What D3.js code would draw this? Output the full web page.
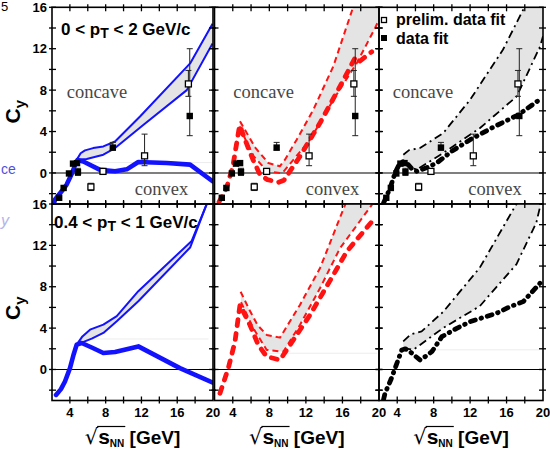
<!DOCTYPE html>
<html><head><meta charset="utf-8">
<script src="https://cdn.jsdelivr.net/npm/d3@7"></script>
<style>
body{margin:0;background:#fff;}
svg{display:block;font-family:Arial,"Liberation Sans",sans-serif;}
</style></head><body>
<svg id="chart" width="550" height="452"></svg>
<script>
// ---------------- DATA ----------------
const xTicksLabeled = [4, 8, 12, 16, 20];
const xTicksAll = [4, 6, 8, 10, 12, 14, 16, 18];
const yTicksLabeled = [0, 4, 8, 12, 16];
const yTicksAll = [-2, 0, 2, 4, 6, 8, 10, 12, 14, 16];
const titlePre = ["0 < p", "0.4 < p"];
const titleSub = "T";
const titlePost = [" < 2 GeV/c", " < 1 GeV/c"];
const legendLabels = ["prelim. data fit", "data fit"];
const regionLabels = ["concave", "convex"];

// data fit (filled squares)
const dataFitX  = [2.8, 3.3, 3.9, 4.35, 4.8, 4.9, 8.8, 17.4];
const dataFitY  = [-2.4, -1.45, -0.05, 0.9, 0.95, 0.1, 2.45, 5.5];
const dataFitLo = [null, null, null, null, null, -0.25, 2.2, 3.6];
const dataFitHi = [null, null, null, null, null, 0.45, 2.95, 12.0];
// prelim. data fit (open squares)
const prelimX  = [6.35, 7.7, 12.35, 17.25];
const prelimY  = [-1.35, 0.15, 1.65, 8.6];
const prelimLo = [-1.7, null, 0.7, 7.4];
const prelimHi = [-1.0, null, 3.75, 9.9];

// blue (left column)
const blueTopThick = [[2.2,-3.0],[2.34,-2.57],[3.08,-1.77],[3.64,-1.12],[4.2,-0.1],[4.55,0.7],[4.85,1.25],[5.5,1.1],[7.37,0.3],[9.05,0.16],[10.36,0.35],[11.65,1.06],[14.83,0.96],[17.44,0.8],[19.95,-0.8]];
const blueTopUpper = [[4.76,1.28],[5.2,1.9],[5.69,2.18],[6.6,2.4],[7.74,2.56],[9.05,3.04],[11.84,5.45],[17.44,10.58],[19.95,14.4]];
const blueTopLower = [[4.76,1.28],[5.88,1.35],[7.74,1.76],[9.05,2.4],[12.2,4.64],[17.07,8.0],[19.95,12.5]];
const blueBotThick = [[2.45,-2.46],[3.0,-1.9],[3.45,-1.16],[4.01,0.13],[4.4,1.4],[4.76,2.4],[5.32,2.56],[6.5,2.1],[7.74,1.59],[9.05,1.69],[11.65,2.23],[16.3,0.13],[19.93,-1.26]];
const blueBotUpper = [[4.76,2.4],[5.4,3.2],[6.25,3.85],[7.74,4.34],[9.24,5.15],[11.65,7.57],[17.62,12.43],[19.3,16],[19.6,17]];
const blueBotLower = [[4.76,2.4],[6.44,2.98],[7.74,3.53],[9.24,4.66],[11.65,6.6],[17.44,11.79],[19.3,16],[19.6,17]];

// red (middle column)
const redTopThick = [[2.5,-2.8],[3.3,-1.5],[4.0,0.6],[4.45,3.0],[4.75,4.6],[5.3,3.3],[6.2,1.3],[7.0,-0.2],[7.8,-0.65],[9.0,-0.9],[9.6,-0.7],[11.35,1.6],[13.54,4.82],[15.73,8.35],[17.37,11.09],[17.75,10.7],[19.2,11.7]];
const redTopUpper = [[4.79,5.0],[5.5,3.9],[6.5,2.4],[7.89,0.96],[9.15,0.64],[9.71,1.28],[10.99,3.21],[12.81,6.1],[15.0,10.3],[17.19,16.07],[20,18]];
const redTopLower = [[4.74,4.5],[5.5,3.0],[6.3,1.6],[7.77,0.17],[9.15,0.0],[9.53,0.1],[12.45,3.2],[15.0,7.07],[17.56,10.6],[19.56,13.98],[20,14.8]];
const redBotThick = [[2.6,-2.3],[3.51,0.12],[4.24,2.69],[4.79,6.24],[5.88,4.3],[6.79,2.37],[7.71,1.24],[9.17,0.92],[10.26,2.37],[12.45,5.27],[15.0,9.14],[16.46,11.39],[19.37,14.46]];
const redBotUpper = [[4.86,7.52],[5.8,5.8],[6.7,4.3],[7.71,3.34],[9.17,3.08],[11.35,6.24],[13.54,9.79],[16.28,15.9],[16.6,16.6],[20,18]];
const redBotLower = [[4.9,6.5],[6.25,3.98],[7.71,1.89],[9.53,1.72],[11.35,4.3],[13.54,7.85],[15.73,11.72],[19.2,15.9],[19.4,16.5]];

// black (right column)
const blackTopThick = [[2.5,-2.9],[3.2,-1.5],[3.76,0],[4.3,0.96],[4.7,1.1],[5.04,0.96],[5.6,0.4],[6.14,0.16],[7.2,0.5],[8.33,0.96],[10.0,2.1],[12.0,3.21],[14.5,4.4],[17.3,5.62],[19.86,7.23]];
const blackTopUpper = [[4.67,1.76],[5.3,2.2],[6.5,2.41],[9.06,3.86],[12.0,7.07],[15.6,11.9],[18.0,16.07],[20,18]];
const blackTopLower = [[4.67,0.96],[5.3,0.6],[6.14,0.32],[9.06,1.93],[13.09,4.34],[17.11,7.39],[19.67,12.2],[20,13.2]];
const blackBotThick = [[2.5,-2.9],[2.66,-2.3],[3.3,-1.0],[3.9,0.44],[4.5,1.89],[4.9,2.0],[5.4,1.72],[6.5,0.92],[7.0,1.2],[7.8,1.72],[8.9,3.17],[10.53,3.98],[12.0,4.62],[14.9,5.43],[16.38,6.07],[17.84,6.56],[19.67,8.34]];
const blackBotUpper = [[4.66,2.72],[5.5,3.4],[6.68,3.69],[9.06,5.59],[13.06,9.84],[17.08,16],[20,18]];
const blackBotLower = [[4.66,2.07],[5.77,1.91],[9.06,4.02],[13.06,6.12],[17.08,10.17],[19.27,14.2],[19.8,16.2]];

// faint guide lines [row, col, y, x0, x1]
const guideLines = [[0,0,1.0,5.1,20],[1,0,2.95,6.5,19.5],[1,1,1.57,7.5,19.8],[1,2,1.9,7.0,19.6]];

// ---------------- LAYOUT ----------------
const colRanges = [[52,213],[214.5,379],[379,543]];
const rowRanges = [[7.3,204],[204,400.5]];
const curveSets = [
  [{u:blueTopUpper,l:blueTopLower,t:blueTopThick},{u:redTopUpper,l:redTopLower,t:redTopThick},{u:blackTopUpper,l:blackTopLower,t:blackTopThick}],
  [{u:blueBotUpper,l:blueBotLower,t:blueBotThick},{u:redBotUpper,l:redBotLower,t:redBotThick},{u:blackBotUpper,l:blackBotLower,t:blackBotThick}]
];
const colStyles = [
  {color:"#1212ff", thinW:2, thinDash:null, thickW:4.6, thickDash:null},
  {color:"#ff1212", thinW:2, thinDash:"6,4", thickW:4.8, thickDash:"6,8"},
  {color:"#000000", thinW:1.8, thinDash:"8,4,2,4", thickW:4.8, thickDash:"5,6,0.5,6"}
];

const svg = d3.select("#chart");
const defs = svg.append("defs");

rowRanges.forEach((rr, ri) => {
  colRanges.forEach((cr, ci) => {
    const x = d3.scaleLinear().domain([2, 20]).range(cr);
    const y = d3.scaleLinear().domain([-3, 16]).range([rr[1], rr[0]]);
    const id = `clip${ri}${ci}`;
    defs.append("clipPath").attr("id", id).append("rect")
      .attr("x", cr[0]).attr("y", rr[0]).attr("width", cr[1]-cr[0]).attr("height", rr[1]-rr[0]);
    const g = svg.append("g");
    const pg = g.append("g").attr("clip-path", `url(#${id})`);
    const line = d3.line().x(d => x(d[0])).y(d => y(d[1]));
    const set = curveSets[ri][ci];
    const st = colStyles[ci];

    // gray band
    pg.append("path").attr("d", line(set.u.concat(set.l.slice().reverse())) + "Z")
      .attr("fill", "#e4e4e4").attr("stroke", "none");

    // faint guides
    guideLines.filter(gl => gl[0]===ri && gl[1]===ci).forEach(gl => {
      pg.append("line").attr("x1", x(gl[3])).attr("x2", x(gl[4]))
        .attr("y1", y(gl[2])).attr("y2", y(gl[2]))
        .attr("stroke", "#ececec").attr("stroke-width", 1);
    });

    // zero line
    pg.append("line").attr("x1", cr[0]).attr("x2", cr[1]).attr("y1", y(0)).attr("y2", y(0))
      .attr("stroke", "#000").attr("stroke-width", 1.1);

    // curves
    [set.u, set.l].forEach(c => {
      pg.append("path").attr("d", line(c)).attr("fill", "none")
        .attr("stroke", st.color).attr("stroke-width", st.thinW)
        .attr("stroke-dasharray", st.thinDash).attr("stroke-linejoin", "round");
    });
    pg.append("path").attr("d", line(set.t)).attr("fill", "none")
      .attr("stroke", st.color).attr("stroke-width", st.thickW)
      .attr("stroke-dasharray", st.thickDash).attr("stroke-linecap", "round")
      .attr("stroke-linejoin", "round");

    // markers (top row only)
    if (ri === 0) {
      const cap = 3;
      const drawErr = (xs, ys, lo, hi) => {
        xs.forEach((xv, i) => {
          if (lo[i] === null) return;
          pg.append("line").attr("x1", x(xv)).attr("x2", x(xv)).attr("y1", y(lo[i])).attr("y2", y(hi[i]))
            .attr("stroke", "#222").attr("stroke-width", 1);
          [lo[i], hi[i]].forEach(v => pg.append("line").attr("x1", x(xv)-cap).attr("x2", x(xv)+cap)
            .attr("y1", y(v)).attr("y2", y(v)).attr("stroke", "#222").attr("stroke-width", 1));
        });
      };
      drawErr(prelimX, prelimY, prelimLo, prelimHi);
      drawErr(dataFitX, dataFitY, dataFitLo, dataFitHi);
      prelimX.forEach((xv, i) => {
        pg.append("rect").attr("x", x(xv)-3).attr("y", y(prelimY[i])-3).attr("width", 6).attr("height", 6)
          .attr("fill", "#fff").attr("stroke", "#000").attr("stroke-width", 1.3);
      });
      dataFitX.forEach((xv, i) => {
        pg.append("rect").attr("x", x(xv)-3.2).attr("y", y(dataFitY[i])-3.2).attr("width", 6.4).attr("height", 6.4)
          .attr("fill", "#000");
      });
      // region labels
      g.append("text").attr("x", cr[0] + [14.7,18.8,13.7][ci]).attr("y", 98)
        .attr("font-family", "'Liberation Serif','DejaVu Serif',serif").attr("font-size", 18.5)
        .attr("fill", "#474747").text(regionLabels[0]);
      g.append("text").attr("x", cr[1] - [24.7,19.7,21.3][ci]).attr("y", 195).attr("text-anchor", "end")
        .attr("font-family", "'Liberation Serif','DejaVu Serif',serif").attr("font-size", 18.5)
        .attr("fill", "#474747").text(regionLabels[1]);
    }

    // frame
    g.append("rect").attr("x", cr[0]).attr("y", rr[0]).attr("width", cr[1]-cr[0]).attr("height", rr[1]-rr[0])
      .attr("fill", "none").attr("stroke", "#000").attr("stroke-width", 1.6);
    // ticks
    yTicksAll.forEach(v => {
      g.append("line").attr("x1", cr[0]-3).attr("x2", cr[0]+4).attr("y1", y(v)).attr("y2", y(v)).attr("stroke", "#000").attr("stroke-width", 1.3);
      g.append("line").attr("x1", cr[1]-4).attr("x2", cr[1]+3).attr("y1", y(v)).attr("y2", y(v)).attr("stroke", "#000").attr("stroke-width", 1.3);
    });
    xTicksAll.forEach(v => {
      g.append("line").attr("x1", x(v)).attr("x2", x(v)).attr("y1", rr[0]-3).attr("y2", rr[0]+4).attr("stroke", "#000").attr("stroke-width", 1.3);
      g.append("line").attr("x1", x(v)).attr("x2", x(v)).attr("y1", rr[1]-4).attr("y2", rr[1]+3).attr("stroke", "#000").attr("stroke-width", 1.3);
    });

    // y tick labels (left column)
    if (ci === 0) {
      yTicksLabeled.forEach(v => {
        g.append("text").attr("x", cr[0]-5).attr("y", y(v)).attr("dy", "0.36em").attr("text-anchor", "end")
          .attr("font-size", 13).attr("font-weight", "bold").text(v);
      });
      // C_y
      const cy = g.append("text").attr("transform", `translate(20,${(rr[0]+rr[1])/2 + 6}) rotate(-90)`)
        .attr("text-anchor", "middle").attr("font-weight", "bold");
      cy.append("tspan").attr("font-size", 21).text("C");
      cy.append("tspan").attr("font-size", 15).attr("dy", 5).text("y");
      // panel title
      const tt = g.append("text").attr("x", cr[0] + (ri===0 ? 9 : 2)).attr("y", ri===0 ? 35 : 228)
        .attr("font-weight", "bold").attr("font-size", 17);
      tt.append("tspan").text(titlePre[ri]);
      tt.append("tspan").attr("font-size", 14).attr("dy", 3).text(titleSub);
      tt.append("tspan").attr("dy", -3).text(titlePost[ri]);
    }

    // x tick labels & axis title (bottom row)
    if (ri === 1) {
      xTicksLabeled.forEach(v => {
        g.append("text").attr("x", x(v)).attr("y", 417).attr("text-anchor", "middle")
          .attr("font-size", 13).attr("font-weight", "bold").text(v);
      });
      const cx = (cr[0]+cr[1])/2;
      const t = g.append("text").attr("x", cx).attr("y", 444).attr("text-anchor", "middle").attr("font-weight", "bold");
      t.append("tspan").attr("font-family", "'DejaVu Serif',serif").attr("font-weight", "normal").attr("font-size", 21).text("\u221A");
      t.append("tspan").attr("font-size", 21).text("s");
      t.append("tspan").attr("font-size", 10).attr("dy", 3).text("NN");
      t.append("tspan").attr("font-size", 19).attr("dy", -3).text(" [GeV]");
      const node = t.node();
      const e0 = node.getExtentOfChar(0);
      const e3 = node.getExtentOfChar(3);
      g.append("line").attr("x1", e0.x + e0.width - 1).attr("x2", e3.x + e3.width + 1)
        .attr("y1", e0.y + 1.5).attr("y2", e0.y + 1.5).attr("stroke", "#000").attr("stroke-width", 1.2);
    }
  });
});

// legend (top-right panel)
svg.append("rect").attr("x", 381.5).attr("y", 17.5).attr("width", 5).attr("height", 5)
  .attr("fill", "#fff").attr("stroke", "#000").attr("stroke-width", 1.3);
svg.append("rect").attr("x", 381).attr("y", 35).attr("width", 6).attr("height", 6).attr("fill", "#000");
svg.append("text").attr("x", 396).attr("y", 25).attr("font-size", 16).attr("font-weight", "bold").text(legendLabels[0]);
svg.append("text").attr("x", 396).attr("y", 43.5).attr("font-size", 16).attr("font-weight", "bold").text(legendLabels[1]);

// fragments at the left edge
svg.append("text").attr("x", 1).attr("y", 11).attr("font-size", 13).text("5");
svg.append("text").attr("x", 1).attr("y", 174).attr("font-size", 14).attr("fill", "#5050e0").text("ce");
svg.append("text").attr("x", 1).attr("y", 226).attr("font-size", 16).attr("font-style", "italic").attr("fill", "#b4b4ec").text("y");
</script>
</body></html>
